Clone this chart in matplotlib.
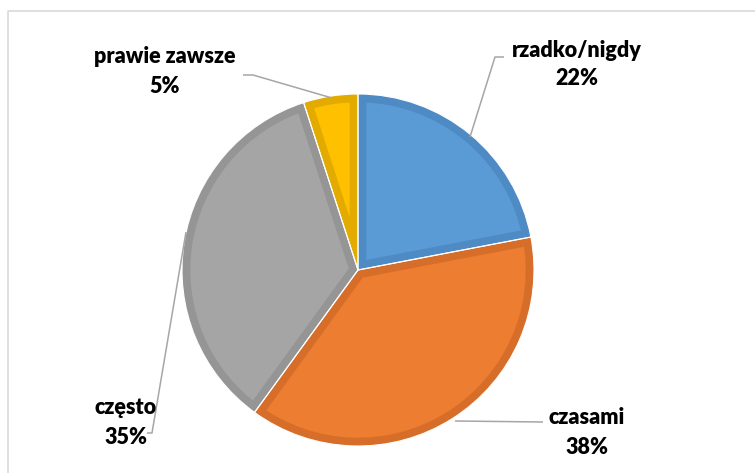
import matplotlib
matplotlib.use("Agg")
import matplotlib.pyplot as plt

categories = ["rzadko/nigdy", "czasami", "często", "prawie zawsze"]
values = [22, 38, 35, 5]
colors = ["#5B9BD5", "#ED7D31", "#A5A5A5", "#FFC000"]
edge_colors = ["#4E8AC3", "#D66E2A", "#959595", "#E3AB00"]

W, H = 755, 473
fig = plt.figure(figsize=(W / 100, H / 100), dpi=100)
ax = fig.add_axes([0, 0, 1, 1])

def Y(y):
    return H - y

cx, cy, r = 358, Y(270), 176
wedges, _ = ax.pie(values, colors=colors, startangle=90, counterclock=False,
                   center=(cx, cy), radius=r, frame=True,
                   wedgeprops=dict(joinstyle="round"))
for w, ec in zip(wedges, edge_colors):
    w.set_edgecolor(ec)
    w.set_linewidth(12)
    w.set_clip_on(True)
    w.set_clip_path(w)
# thin white separators
ax.pie(values, colors=["none"] * 4, startangle=90, counterclock=False,
       center=(cx, cy), radius=r, frame=True,
       wedgeprops=dict(edgecolor="white", linewidth=0.8, fill=False))
ax.set_xlim(0, W)
ax.set_ylim(0, H)
ax.set_aspect("equal")
ax.axis("off")

line_c = "#A6A6A6"
leaders = [
    [(470, 137), (495, 57), (504, 57)],
    [(455, 421), (543, 422)],
    [(186, 232), (152, 433), (147, 433)],
    [(332, 98), (253, 75), (243, 75)],
]
for pts in leaders:
    ax.plot([p[0] for p in pts], [Y(p[1]) for p in pts], color=line_c, lw=1.1,
            solid_capstyle="butt")

label_pos = [(577, 50, 78), (587, 418, 447), (126, 407, 437), (165, 56, 86)]
font = dict(family="Lato", fontweight="heavy", fontsize=15.5, color="black",
            ha="center", va="center")
for cat, v, (x, y1, y2) in zip(categories, values, label_pos):
    ax.text(x, Y(y1), cat, **font)
    ax.text(x, Y(y2), f"{v}%", **font)

# outer frame
ax.plot([8, 8, W], [0, Y(11), Y(11)], color="#D9D9D9", lw=1.2)

fig.savefig("out.png", dpi=100)
